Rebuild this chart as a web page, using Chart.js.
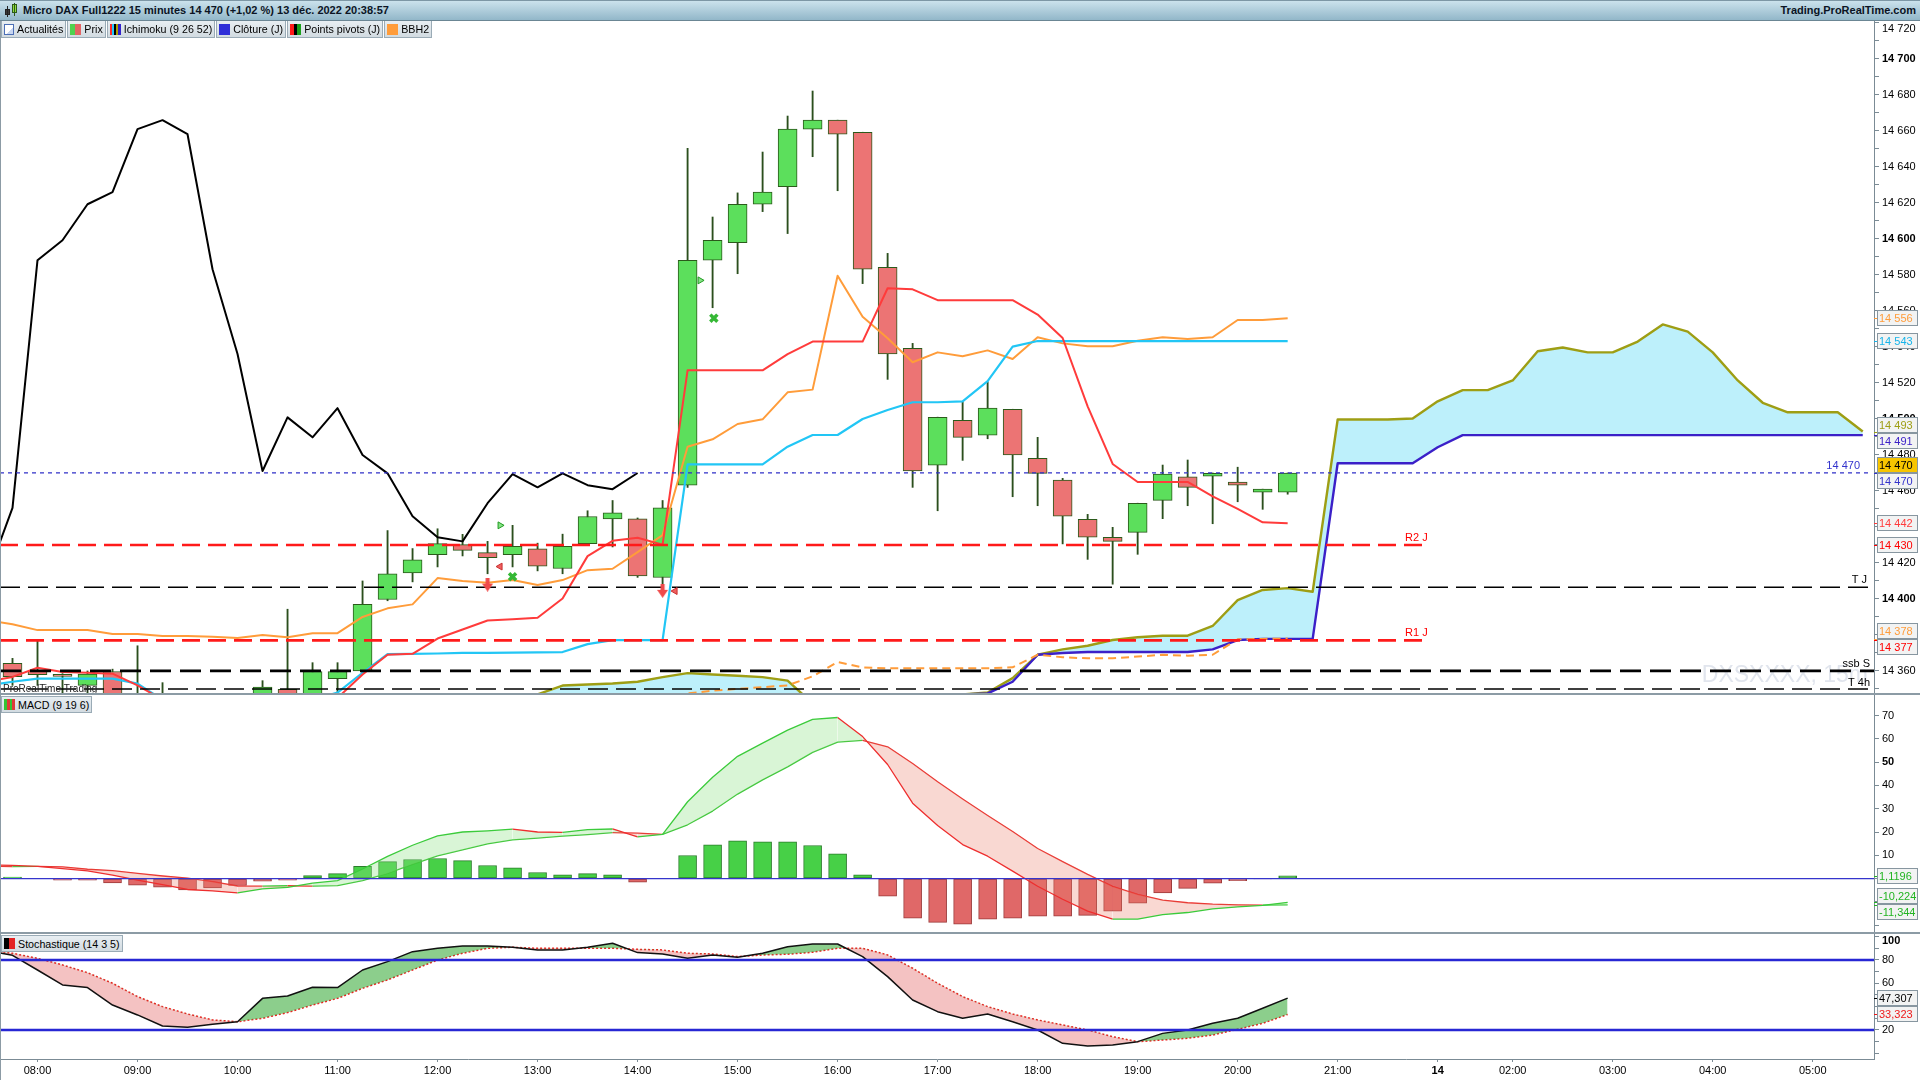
<!DOCTYPE html>
<html lang="fr">
<head>
<meta charset="utf-8">
<title>Micro DAX Full1222 15 minutes</title>
<script src="https://cdn.jsdelivr.net/npm/chart.js@4.4.1/dist/chart.umd.min.js"></script>
<style>
html, body { margin: 0; padding: 0; background: #fff; }
body { position: relative; width: 1920px; height: 1080px; overflow: hidden;
  font-family: "Liberation Sans", Arial, sans-serif; font-size: 11px; color: #000; }
#titlebar { position: absolute; left: 0; top: 0; width: 1920px; height: 21px; box-sizing: border-box;
  background: linear-gradient(#cbe2ec, #92b7c9); border-top: 1px solid #7d97a5; border-bottom: 1px solid #6b8694;
  font-weight: bold; z-index: 5; color: #0b1424; }
#titlebar .name { position: absolute; left: 23px; top: 3px; }
#titlebar .site { position: absolute; right: 4px; top: 3px; }
.ticon { position: absolute; left: 4px; top: 2px; width: 16px; height: 15px; }
.ticon i { position: absolute; display: block; box-sizing: border-box; border: 1px solid #222; }
#legend { position: absolute; left: 1px; top: 21px; height: 17px; display: flex; z-index: 5; font-size: 10.7px; }
.btn, .plabel { height: 17px; box-sizing: border-box; border: 1px solid #9aabb6; border-top: none;
  background: linear-gradient(#e8eef2, #d2dbe1); display: flex; align-items: center;
  padding: 0 2px 0 2px; margin-right: 1px; white-space: nowrap; }
.plabel { position: absolute; left: 1px; border-top: 1px solid #9aabb6; z-index: 5; font-size: 10.7px; }
.sw { display: inline-block; width: 11px; height: 11px; margin-right: 3px; box-sizing: border-box; }
canvas { position: absolute; left: 0; }
.sep { position: absolute; left: 0; width: 1920px; height: 2px; background: #8c9ba5; z-index: 4; }
.frame { position: absolute; left: 0; top: 21px; width: 1px; height: 1059px; background: #8c9ba5; z-index: 4; }
</style>
</head>
<body>
<div id="titlebar">
  <span class="ticon">
    <i style="left:1px;top:6px;width:5px;height:6px;background:#3a3a3a"></i>
    <i style="left:3px;top:3px;width:1px;height:11px;border-width:0 0 0 1px"></i>
    <i style="left:8px;top:1px;width:5px;height:9px;background:#8fe03c;border-color:#2d5a1a"></i>
    <i style="left:10px;top:0px;width:1px;height:13px;border-width:0 0 0 1px;border-color:#2d5a1a"></i>
  </span>
  <span class="name">Micro DAX Full1222 15 minutes 14 470 (+1,02 %) 13 déc. 2022 20:38:57</span>
  <span class="site">Trading.ProRealTime.com</span>
</div>
<div id="legend">
  <div class="btn"><span class="sw" style="width:10px;height:11px;border:1px solid #4c6fb6;background:linear-gradient(135deg,#fff 60%,#c8d6f0 60%)"></span>Actualités</div>
  <div class="btn"><span class="sw" style="background:linear-gradient(90deg,#4fd24f 50%,#e36464 50%)"></span>Prix</div>
  <div class="btn"><span class="sw" style="background:linear-gradient(90deg,#ff2a2a 0 2px,#22c8ff 2px 4px,#000 4px 6px,#b0a000 6px 8px,#3322cc 8px 11px)"></span>Ichimoku (9 26 52)</div>
  <div class="btn"><span class="sw" style="background:#2f2fd8"></span>Clôture (J)</div>
  <div class="btn"><span class="sw" style="background:linear-gradient(90deg,#ff1a1a 0 4px,#000 4px 7px,#1aa01a 7px)"></span>Points pivots (J)</div>
  <div class="btn"><span class="sw" style="background:#ff9c3a"></span>BBH2</div>
</div>

<canvas id="main" width="1920" height="673" style="top:21px"></canvas>
<canvas id="macd" width="1920" height="239" style="top:694px"></canvas>
<canvas id="stoch" width="1920" height="147" style="top:933px"></canvas>

<div class="sep" style="top:693px"></div>
<div class="sep" style="top:932px"></div>
<div class="frame"></div>
<div class="plabel" style="top:696px"><span class="sw" style="background:linear-gradient(90deg,#34c434 0 3px,#e03a3a 3px 6px,#34c434 6px 8px,#e03a3a 8px)"></span>MACD (9 19 6)</div>
<div class="plabel" style="top:935px"><span class="sw" style="background:linear-gradient(90deg,#000 0 5px,#e42222 5px)"></span>Stochastique (14 3 5)</div>

<script>
// ---------- data (15 min bars, index 0 = 08:00) ----------
const times = ['07:30','07:45','08:00','08:15','08:30','08:45','09:00','09:15','09:30','09:45',
  '10:00','10:15','10:30','10:45','11:00','11:15','11:30','11:45','12:00','12:15','12:30','12:45',
  '13:00','13:15','13:30','13:45','14:00','14:15','14:30','14:45','15:00','15:15','15:30','15:45',
  '16:00','16:15','16:30','16:45','17:00','17:15','17:30','17:45','18:00','18:15','18:30','18:45',
  '19:00','19:15','19:30','19:45','20:00','20:15','20:30'];
const BAR0 = -2; // times[0] sits two bars before 08:00

const opens = [null, 14364.3, 14360, 14357.5, 14352, 14359.7, 14342, 14338, 14336, 14333, 14338, 14340,
  14349.8, 14338, 14355.7, 14360, 14399.7, 14414.4, 14424.6, 14430.2, 14425.7, 14424.6, 14427.9, 14416.9,
  14430.7, 14444.5, 14444.5, 14411.9, 14463.2, 14588.2, 14598, 14619.3, 14629, 14661, 14666, 14659.3,
  14584.3, 14539.3, 14474.3, 14499.3, 14491, 14505.4, 14478.2, 14466, 14444.3, 14434.3, 14437, 14454.8,
  14467.9, 14468.2, 14465, 14459.4, 14459.3];
const highs = [null, 14367, 14377, 14358.5, 14360, 14361, 14374, 14353.5, 14345, 14346, 14346, 14354.6,
  14394.3, 14364.6, 14364.6, 14410, 14438, 14428, 14439, 14435.9, 14432, 14440.9, 14431, 14436, 14449,
  14454.7, 14445, 14454.7, 14650.4, 14612.2, 14625.6, 14648.3, 14668.3, 14682.2, 14666, 14659.3, 14592,
  14542, 14501, 14509.6, 14520.7, 14505.4, 14489.8, 14467, 14447, 14439.8, 14453.2, 14474.4, 14477.2,
  14470, 14473.2, 14461, 14470];
const lows = [null, 14352, 14352, 14345, 14345, 14335, 14330, 14328, 14326, 14328, 14332, 14336, 14336,
  14335, 14345, 14359, 14399, 14409.5, 14417.8, 14423.9, 14414, 14417.8, 14415.6, 14414, 14430.7, 14428.9,
  14412, 14404, 14462, 14561.8, 14580.7, 14615.2, 14603, 14645.7, 14626.8, 14575.2, 14522, 14462, 14449,
  14477, 14489, 14456.8, 14451.8, 14430.6, 14422, 14408.2, 14424.8, 14444.6, 14451.8, 14441.8, 14454,
  14449.8, 14458.2];
const closes = [null, 14356.8, 14358, 14357, 14358.3, 14338, 14336, 14335, 14333, 14338, 14342, 14351,
  14340, 14359.7, 14359.7, 14397, 14414, 14421.8, 14430.7, 14427, 14423, 14429.2, 14418.2, 14429.2,
  14445.8, 14447.9, 14412.8, 14450.6, 14588.2, 14599.3, 14619.3, 14626, 14661, 14666, 14658.2, 14583.2,
  14536.1, 14471.1, 14500.9, 14489.8, 14506, 14480, 14469.8, 14446, 14434.3, 14432, 14453.2, 14469.4,
  14462, 14469.8, 14463.2, 14461, 14470];

// Ichimoku (9 26 52)
const tenkan = [14354, 14356.7, 14361.8, 14359.4, 14359, 14358.5, 14352, 14344, 14340, 14339, 14338,
  14338, 14340, 14342, 14345, 14358, 14369, 14369.5, 14378, 14383, 14388, 14388.7, 14389.6, 14400.3,
  14423.8, 14432.3, 14434, 14430.2, 14527, 14527, 14527, 14527, 14536, 14543, 14543, 14543, 14572.6,
  14572, 14566, 14566, 14566, 14566, 14558, 14545, 14507, 14475, 14465, 14465, 14465, 14457, 14450,
  14442.6, 14442];
const kijun = [14352, 14354, 14355.7, 14355.7, 14355.7, 14355.7, 14353, 14344, 14340, 14338, 14338,
  14338, 14340, 14344, 14348, 14359, 14369.4, 14369.5, 14369.7, 14370, 14370, 14370.2, 14370.3, 14370.5,
  14374.9, 14377.1, 14377.1, 14377.1, 14474.8, 14474.8, 14474.8, 14474.8, 14484.6, 14491.1, 14491.1,
  14500, 14505, 14509.3, 14509.3, 14509.8, 14521, 14540.2, 14543.3, 14543.3, 14543.3, 14543.3, 14543.3,
  14543.3, 14543.3, 14543.3, 14543.3, 14543.3, 14543.3];
const chikou = [14412.8, 14450.6, 14588.2, 14599.3, 14619.3, 14626, 14661, 14666, 14658.2, 14583.2,
  14536.1, 14471.1, 14500.9, 14489.8, 14506, 14480, 14469.8, 14446, 14434.3, 14432, 14453.2, 14469.4,
  14462, 14469.8, 14463.2, 14461, 14470];
const cloudStart = 18; // senkou spans run from bar 18 to bar 73 (projected)
const senkouA = [14335, 14340, 14347, 14351.9, 14352.5, 14353, 14354, 14356.6, 14358.8, 14358, 14357.3,
  14356.6, 14354.6, 14342, 14338, 14336, 14338, 14342, 14346.5, 14347, 14348, 14356, 14369, 14372, 14374,
  14377.2, 14378.7, 14379.6, 14379.6, 14385, 14399.4, 14405, 14406, 14404, 14499.7, 14499.7, 14499.7,
  14500.3, 14509.8, 14516, 14516, 14521.4, 14537.6, 14539.7, 14537, 14537, 14543, 14552.5, 14548.5,
  14537, 14521.4, 14509, 14503.7, 14503.7, 14503.7, 14493];
const senkouB = [14330, 14330, 14331, 14331, 14332, 14332, 14332, 14333, 14334, 14334, 14335, 14335,
  14336, 14336, 14337, 14336, 14337, 14340, 14346, 14347, 14347.5, 14354, 14369, 14370, 14370.5, 14370.5,
  14370.5, 14370.5, 14370.5, 14372, 14377.2, 14377.8, 14377.8, 14377.8, 14475.4, 14475.4, 14475.4,
  14475.4, 14484.3, 14491, 14491, 14491, 14491, 14491, 14491, 14491, 14491, 14491, 14491, 14491, 14491,
  14491, 14491, 14491, 14491, 14491];

// BBH2 bands
const bandHigh = [14388, 14386, 14382.7, 14382.7, 14382.7, 14380.5, 14380.5, 14379.4, 14379.4, 14379,
  14378.3, 14380, 14378.7, 14381, 14381, 14390, 14394.8, 14397, 14411.6, 14410, 14409, 14410.5, 14407.7,
  14410.5, 14416, 14416.8, 14426, 14435.5, 14484.6, 14488.7, 14497.2, 14499.8, 14514.8, 14516.3, 14579.6,
  14556.8, 14544.8, 14531.5, 14537, 14534.8, 14538.1, 14533.3, 14545.4, 14542, 14540.4, 14540.4, 14543.5,
  14545.4, 14544.4, 14545.4, 14555, 14555, 14556];
const bandLowStart = 24;
const bandLow = [14342, 14345, 14347.5, 14349, 14350, 14351, 14352, 14357, 14365, 14362, 14361.5,
  14361.5, 14361.5, 14361.5, 14361.5, 14362, 14369, 14367.6, 14367, 14367, 14368, 14369, 14368.5, 14369,
  14377.6, 14377.8, 14378];

// pivots (J / S / 4h) and daily close
const pivotR2 = 14430, pivotR1 = 14377, pivotT = 14406.5, ssbS = 14360, pivot4h = 14350;
const dailyClose = 14470;
const pivotEnd = 55.6;

// signal markers
const buyTriX = [18.5, 26.5], buyTriY = [14440.9, 14577];
const crossX = [19, 27.05], crossY = [14412.3, 14556];
const sellArrowX = [18, 25], sellArrowY = [14408, 14404.5];
const sellTriX = [18.5, 25.5], sellTriY = [14418, 14404.4];

// MACD (9 19 6)
const macdLine = [5.8, 5.7, 5.2, 4.3, 3.3, 1.5, -0.7, -2.6, -4.7, -5.3, -6.2, -4.4, -3.8, -2.0, -0.9,
  4.1, 9.5, 14.3, 18.3, 20.0, 20.5, 21.2, 20.0, 19.8, 21.0, 21.3, 17.9, 19.0, 33.0, 43.5, 52.5, 58.2,
  63.8, 68.4, 69.2, 61.0, 49.0, 32.4, 22.8, 14.6, 9.6, 3.2, -3.3, -8.9, -14.0, -17.4, -17.4, -15.5, -14.6,
  -13.0, -12.2, -11.5, -10.224];
const signalLine = [5.4, 5.1, 5.2, 5.0, 4.0, 3.4, 2.2, 1.1, 0.2, -1.3, -3.2, -3.3, -3.1, -3.3, -3.0,
  -0.9, 2.2, 6.1, 9.7, 12.3, 14.9, 16.6, 17.4, 18.2, 18.9, 19.7, 19.5, 19.0, 23.1, 29.0, 36.3, 42.4, 48.0,
  54.2, 58.6, 59.4, 56.6, 49.4, 41.6, 34.2, 27.1, 20.2, 12.9, 7.3, 1.8, -3.4, -6.8, -9.3, -10.4, -11.0,
  -11.3, -11.4, -11.344];
const macdHist = [0.4, 0.6, 0, -0.7, -0.7, -1.9, -2.9, -3.7, -4.9, -4.0, -3.0, -1.1, -0.7, 1.3, 2.1, 5.2,
  7.3, 8.2, 8.6, 7.7, 5.6, 4.6, 2.6, 1.6, 2.1, 1.6, -1.6, 0, 9.9, 14.5, 16.2, 15.8, 15.8, 14.2, 10.6, 1.6,
  -7.6, -17, -18.8, -19.6, -17.5, -17, -16.2, -16.2, -15.8, -14, -10.6, -6.2, -4.2, -2, -0.9, -0.1, 1.1196];

// Stochastique (14 3 5)
const stochK = [88, 84, 71.4, 58.6, 56.3, 41.4, 32.9, 23.4, 22.3, 24.9, 27.1, 47.1, 49.1, 56.6, 56.3,
  71.4, 78.6, 87.1, 90, 92, 92, 90.9, 88.6, 88.6, 90.9, 94.3, 86.3, 85.1, 81.4, 84.3, 82.3, 85.7, 91.4,
  93.7, 93.7, 82.9, 65.7, 45.7, 35.7, 30, 33.7, 27.1, 20, 8.6, 6.3, 7.1, 10, 17.1, 20, 25.7, 30, 38.6, 47.307];
const stochD = [88.5, 85.7, 81.4, 75.7, 69.1, 60, 48.6, 40, 33.7, 28.6, 27.1, 30, 34.9, 41.4, 47.1, 55.7,
  62.9, 71.4, 80, 85.7, 90, 90.9, 90, 90, 90, 90, 89.1, 88.6, 85.7, 85.1, 82.9, 84.3, 84.9, 86.6, 90, 90,
  84.3, 72.9, 60, 48.6, 40, 33.7, 28.6, 24.3, 20, 14.3, 10, 11.4, 12.9, 15.7, 20.6, 25.7, 33.323];
const stochHigh = 80, stochLow = 20;

// x axis labels (bar index -> label); the session of the 14th opens at 01:15
const hourTicks = [0, 4, 8, 12, 16, 20, 24, 28, 32, 36, 40, 44, 48, 52, 56, 59, 63, 67, 71];
const hourLabels = ['08:00','09:00','10:00','11:00','12:00','13:00','14:00','15:00','16:00','17:00',
  '18:00','19:00','20:00','21:00','14','02:00','03:00','04:00','05:00'];

// ---------- helpers ----------
const FONT = '"Liberation Sans", Arial, sans-serif';
const AXIS_C = '#7b8b95';
const X_MIN = -1.5, X_MAX = 73.45, AXIS_W = 46;

const barX = times.map((t, k) => k + BAR0);
const chikouX = chikou.map((v, k) => k + BAR0);
const cloudX = senkouA.map((v, k) => k + cloudStart);
const bandLowX = bandLow.map((v, k) => k + bandLowStart);
const pts = (xs, ys) => ys.map((y, k) => ({ x: xs[k], y }));
const last = arr => arr[arr.length - 1];
const fmtPrice = v => { const s = String(Math.round(v)); return s.slice(0, -3) + ' ' + s.slice(-3); };
const fmtDec = v => v.toPrecision(5).replace('.', ',');

const candleIdx = barX.map((x, k) => k).filter(k => opens[k] !== null);
const bodies = candleIdx.map(k => ({ x: barX[k], y: [opens[k], closes[k]] }));
const wicks = candleIdx.map(k => ({ x: barX[k], y: [lows[k], highs[k]] }));

function hline(v, x0, x1, color, width, dash, order) {
  return { type: 'line', data: [{ x: x0, y: v }, { x: x1, y: v }], borderColor: color,
    borderWidth: width, borderDash: dash || [], pointRadius: 0, order: order || 3 };
}

function arrowDown(color) {
  const c = document.createElement('canvas');
  c.width = 11; c.height = 14;
  const g = c.getContext('2d');
  g.fillStyle = color;
  g.fillRect(3.5, 0, 4, 7);
  g.beginPath(); g.moveTo(0, 6); g.lineTo(11, 6); g.lineTo(5.5, 14); g.closePath(); g.fill();
  return c;
}

function placeBoxes(items, h) {
  items.sort((p, q) => p.want - q.want);
  const groups = items.map(it => ({ list: [it] }));
  const centre = g => g.list.reduce((s, it) => s + it.want, 0) / g.list.length;
  let changed = true;
  while (changed) {
    changed = false;
    for (let k = 0; k < groups.length - 1; k++) {
      const A = groups[k], B = groups[k + 1];
      if (centre(A) + A.list.length * h / 2 > centre(B) - B.list.length * h / 2) {
        A.list = A.list.concat(B.list);
        groups.splice(k + 1, 1);
        changed = true;
        break;
      }
    }
  }
  groups.forEach(g => {
    const top = centre(g) - g.list.length * h / 2;
    g.list.forEach((it, j) => { it.pos = top + h * (j + 0.5); });
  });
}

// right axis: tick labels and value boxes
function rightAxis(cfg) {
  return {
    id: 'rightAxis',
    afterDraw(chart) {
      const s = chart.scales.y, a = chart.chartArea, g = chart.ctx;
      g.save();
      g.textBaseline = 'middle';
      g.textAlign = 'left';
      g.fillStyle = '#000';
      s.ticks.forEach(t => {
        if (!cfg.label(t.value)) return;
        g.font = (cfg.bold(t.value) ? 'bold ' : '') + '11px ' + FONT;
        const y = Math.max(a.top + 8, Math.min(a.bottom - 6, s.getPixelForValue(t.value)));
        g.fillText(cfg.fmt(t.value), s.left + 8, y);
      });
      const H = 16;
      const items = cfg.boxes.map(b => Object.assign({ want: s.getPixelForValue(b.v) }, b));
      placeBoxes(items, H);
      items.forEach(b => {
        const yy = Math.round(b.want) + 0.5;
        g.strokeStyle = b.tick || b.color;
        g.lineWidth = 1;
        g.beginPath(); g.moveTo(s.left, yy); g.lineTo(s.left + 4, yy); g.stroke();
        const top = Math.round(b.pos - H / 2) + 0.5;
        g.fillStyle = b.bg || '#f2f3f3';
        g.fillRect(s.left + 3.5, top, 40, H - 1);
        g.strokeStyle = '#8796a0';
        g.strokeRect(s.left + 3.5, top, 40, H - 1);
        g.fillStyle = b.color;
        g.font = '11px ' + FONT;
        g.fillText(b.text, s.left + 5, top + H / 2);
      });
      g.restore();
    }
  };
}

const mainText = {
  id: 'mainText',
  beforeDatasetsDraw(chart) {
    const a = chart.chartArea, g = chart.ctx;
    g.save();
    g.font = '23px ' + FONT;
    g.fillStyle = '#e1e5ed';
    g.textAlign = 'right';
    g.fillText('DXSXXXX, 15m', a.right - 6, a.bottom - 12);
    g.restore();
  },
  afterDatasetsDraw(chart) {
    const x = chart.scales.x, y = chart.scales.y, a = chart.chartArea, g = chart.ctx;
    g.save();
    g.font = '11px ' + FONT;
    g.textAlign = 'right';
    g.fillStyle = '#ff0000';
    g.fillText('R2 J', x.getPixelForValue(pivotEnd), y.getPixelForValue(pivotR2) - 4);
    g.fillText('R1 J', x.getPixelForValue(pivotEnd), y.getPixelForValue(pivotR1) - 4);
    g.fillStyle = '#000';
    g.fillText('T J', a.right - 7, y.getPixelForValue(pivotT) - 4);
    g.fillText('ssb S', a.right - 4, y.getPixelForValue(ssbS) - 4);
    g.fillText('T 4h', a.right - 4, y.getPixelForValue(pivot4h) - 3);
    g.fillStyle = '#3333cc';
    g.fillText(fmtPrice(dailyClose), a.right - 14, y.getPixelForValue(dailyClose) - 4);
    g.textAlign = 'left';
    g.fillStyle = '#222';
    g.font = '10px ' + FONT;
    g.fillText('ProRealTime Trading', 3, a.bottom - 2);
    g.restore();
  }
};

function baseOptions(yMin, yMax, step) {
  return {
    responsive: false,
    animation: false,
    events: [],
    layout: { padding: 0, autoPadding: false },
    elements: { point: { radius: 0 }, line: { tension: 0, borderJoinStyle: 'round' } },
    plugins: { legend: { display: false }, tooltip: { enabled: false } },
    scales: {
      x: { type: 'linear', min: X_MIN, max: X_MAX, offset: false, display: false, grid: { offset: false } },
      y: {
        type: 'linear', position: 'right', min: yMin, max: yMax,
        ticks: { stepSize: step, display: false, includeBounds: false },
        grid: { drawOnChartArea: false, drawTicks: true, tickLength: 5, tickColor: AXIS_C, offset: false },
        border: { display: true, color: AXIS_C },
        afterFit: s => { s.width = AXIS_W; }
      }
    }
  };
}

const slopeColor = c => c.p1.parsed.y >= c.p0.parsed.y ? '#3bcb3b' : '#ee2e2e';

// ---------- main price panel ----------
const CLOUD = '#bdf0fb';
new Chart(document.getElementById('main'), {
  type: 'line',
  data: {
    datasets: [
      { data: pts(cloudX, senkouA), borderColor: '#9e9e14', borderWidth: 2.4,
        fill: { target: '+1', above: CLOUD, below: CLOUD }, order: 20 },
      { data: pts(cloudX, senkouB), borderColor: '#3b20c8', borderWidth: 2.4, order: 19 },
      { type: 'bar', data: wicks, barThickness: 1.2, backgroundColor: '#2b4f1d', grouped: false, order: 12 },
      { type: 'bar', data: bodies, barThickness: 19, grouped: false, order: 11, minBarLength: 2,
        borderSkipped: false, borderWidth: 1, borderColor: '#2b5a1b',
        backgroundColor: c => (c.raw && c.raw.y[1] >= c.raw.y[0]) ? '#5cdf5c' : '#ec7474' },
      { data: pts(barX, bandHigh), borderColor: '#ff9c3a', borderWidth: 2, order: 6 },
      { data: pts(bandLowX, bandLow), borderColor: '#ff9c3a', borderWidth: 2, borderDash: [8, 5], order: 6 },
      { data: pts(barX, kijun), borderColor: '#22c6f5', borderWidth: 2.2, order: 5 },
      { data: pts(barX, tenkan), borderColor: '#ff3b3b', borderWidth: 2, order: 4 },
      { data: pts(chikouX, chikou), borderColor: '#000', borderWidth: 2, order: 4 },
      hline(pivotR2, X_MIN, pivotEnd, '#ff1a1a', 2.6, [18, 8]),
      hline(pivotR1, X_MIN, pivotEnd, '#ff1a1a', 2.6, [18, 8]),
      hline(pivotT, X_MIN, 73.35, '#000', 1.4, [20, 8]),
      hline(ssbS, X_MIN, X_MAX, '#000', 2.8, [21, 9]),
      hline(pivot4h, X_MIN, 73.35, '#000', 1.4, [20, 8]),
      hline(dailyClose, X_MIN, 73.35, '#3030c8', 1.2, [4, 4]),
      { type: 'scatter', data: pts(buyTriX, buyTriY), pointStyle: 'triangle', pointRotation: 90, pointRadius: 4,
        pointBackgroundColor: '#86e486', pointBorderColor: '#1f9a1f', pointBorderWidth: 1, order: 0 },
      { type: 'scatter', data: pts(crossX, crossY), pointStyle: 'crossRot', pointRadius: 5,
        pointBorderColor: '#35b835', pointBorderWidth: 3.5, order: 0 },
      { type: 'scatter', data: pts(sellTriX, sellTriY), pointStyle: 'triangle', pointRotation: -90, pointRadius: 4,
        pointBackgroundColor: '#f06060', pointBorderColor: '#c83030', pointBorderWidth: 1, order: 0 },
      { type: 'scatter', data: pts(sellArrowX, sellArrowY), pointStyle: arrowDown('#ef4a4a'), pointRadius: 6, order: 0 }
    ]
  },
  options: baseOptions(14347.2, 14721.1, 10),
  plugins: [mainText, rightAxis({
    label: v => v % 20 === 0,
    bold: v => v % 100 === 0,
    fmt: fmtPrice,
    boxes: [
      { v: last(bandHigh), text: fmtPrice(last(bandHigh)), color: '#ff9c3a' },
      { v: last(kijun), text: fmtPrice(last(kijun)), color: '#16b4ea' },
      { v: last(senkouA), text: fmtPrice(last(senkouA)), color: '#9e9e14' },
      { v: last(senkouB), text: fmtPrice(last(senkouB)), color: '#3b20c8' },
      { v: last(closes), text: fmtPrice(last(closes)), color: '#000', bg: '#f7c500', tick: '#000' },
      { v: dailyClose, text: fmtPrice(dailyClose), color: '#3333cc' },
      { v: last(tenkan), text: fmtPrice(last(tenkan)), color: '#ff3b3b' },
      { v: pivotR2, text: fmtPrice(pivotR2), color: '#ff0000' },
      { v: last(bandLow), text: fmtPrice(last(bandLow)), color: '#ff9c3a' },
      { v: pivotR1, text: fmtPrice(pivotR1), color: '#ff0000' }
    ]
  })]
});

// ---------- MACD panel ----------
new Chart(document.getElementById('macd'), {
  type: 'line',
  data: {
    datasets: [
      { data: pts(barX, macdLine), borderWidth: 1.3, borderColor: '#3bcb3b', segment: { borderColor: slopeColor },
        fill: { target: '+1', above: 'rgba(140,225,130,0.33)', below: 'rgba(235,125,105,0.30)' }, order: 2 },
      { data: pts(barX, signalLine), borderWidth: 1.3, borderColor: '#3bcb3b', segment: { borderColor: slopeColor }, order: 3 },
      { type: 'bar', data: pts(barX, macdHist), barThickness: 18, borderWidth: 1, borderSkipped: false, order: 10,
        backgroundColor: c => (c.raw && c.raw.y >= 0) ? '#47d047' : '#e06868',
        borderColor: c => (c.raw && c.raw.y >= 0) ? '#2b7d2b' : '#9c3a3a' },
      hline(0, X_MIN, X_MAX, '#3535cc', 1.3, [], 1)
    ]
  },
  options: baseOptions(-23.4, 79.3, 10),
  plugins: [rightAxis({
    label: v => v >= 10,
    bold: v => v === 50,
    fmt: v => String(v),
    boxes: [
      { v: last(macdHist), text: fmtDec(last(macdHist)), color: '#22b422' },
      { v: last(macdLine), text: fmtDec(last(macdLine)), color: '#22b422' },
      { v: last(signalLine), text: fmtDec(last(signalLine)), color: '#22b422' }
    ]
  })]
});

// ---------- Stochastic panel (with the time axis) ----------
const stochOpts = baseOptions(-4.86, 103.1, 10);
stochOpts.scales.x = {
  type: 'linear', min: X_MIN, max: X_MAX, offset: false, position: 'bottom',
  afterBuildTicks: s => { s.ticks = hourTicks.map(v => ({ value: v })); },
  afterFit: s => { s.height = 21; },
  ticks: {
    autoSkip: false, maxRotation: 0, padding: 2, color: '#000',
    callback: v => { const k = hourTicks.indexOf(v); return k < 0 ? '' : hourLabels[k]; },
    font: c => ({ family: FONT, size: 11, weight: (c.tick && hourLabels[hourTicks.indexOf(c.tick.value)] === '14') ? 'bold' : 'normal' })
  },
  grid: { drawOnChartArea: false, drawTicks: true, tickLength: 3, tickColor: AXIS_C, offset: false },
  border: { display: true, color: AXIS_C }
};
new Chart(document.getElementById('stoch'), {
  type: 'line',
  data: {
    datasets: [
      { data: pts(barX, stochK), borderColor: '#111', borderWidth: 1.5,
        fill: { target: '+1', above: 'rgba(45,165,45,0.55)', below: 'rgba(225,85,85,0.36)' }, order: 2 },
      { data: pts(barX, stochD), borderColor: '#ee2020', borderWidth: 1.5, borderDash: [2, 2], order: 3 },
      hline(stochHigh, X_MIN, X_MAX, '#2727d4', 2.5, [], 1),
      hline(stochLow, X_MIN, X_MAX, '#2727d4', 2.5, [], 1)
    ]
  },
  options: stochOpts,
  plugins: [rightAxis({
    label: v => v % 20 === 0 && v > 0,
    bold: v => v === 100,
    fmt: v => String(v),
    boxes: [
      { v: last(stochK), text: fmtDec(last(stochK)), color: '#000' },
      { v: last(stochD), text: fmtDec(last(stochD)), color: '#ee1a1a' }
    ]
  })]
});
</script>
</body>
</html>
